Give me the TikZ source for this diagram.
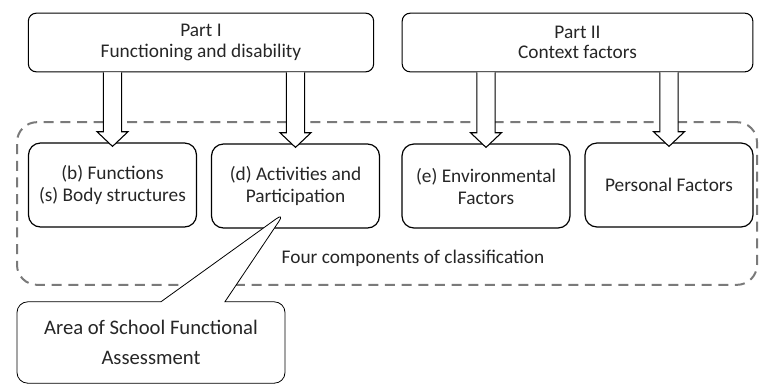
\documentclass[tikz,border=0pt]{standalone}
\usepackage{fontspec}
\setmainfont{Carlito}
\usetikzlibrary{calc,shapes.callouts}
\definecolor{icfgray}{HTML}{7A7A7A}
\definecolor{icftext}{HTML}{262626}

\newcommand{\hollowarrow}[2]{%
  \draw[hollow] ($(#1)+(-6.8pt,0)$) -- ($(#2)+(-6.8pt,11pt)$) -- ($(#2)+(-11.6pt,11pt)$)
    -- (#2) -- ($(#2)+(11.6pt,11pt)$) -- ($(#2)+(6.8pt,11pt)$) -- ($(#1)+(6.8pt,0)$);}

\begin{document}
\begin{tikzpicture}[x=0.75pt,y=-0.75pt,
    every node/.style={text=icftext,font=\fontsize{14.5}{15.5}\selectfont},
    part/.style={draw,rounded corners=6pt,line width=0.8pt,minimum width=259pt,minimum height=44pt,align=center},
    comp/.style={draw,rounded corners=9pt,line width=0.9pt,minimum width=126pt,minimum height=63pt,align=center,
      font=\fontsize{14.5}{16.5}\selectfont},
    group/.style={draw=icfgray,line width=1.5pt,dash pattern=on 7.5pt off 5pt,rounded corners=15pt,minimum width=555pt,minimum height=122pt},
    hollow/.style={line width=0.8pt,fill=white,line join=miter},
    bubble/.style={rectangle callout,draw,fill=white,line width=0.6pt,rounded corners=8pt,minimum width=201pt,minimum height=61pt,
      callout pointer width=48pt,align=center,font=\fontsize{15.5}{22}\selectfont}]
    \useasboundingbox (0,0) rectangle (760,387);
    \node[part] (partI)  at (201,42.5)   {Part I\\Functioning and disability};
    \node[part,minimum width=263pt] (partII) at (577.5,42.5) {Part II\\Context factors};
    \node[group] (four) at (387,203.5) {};
    \node[comp] (box1) at (112.5,185) {(b) Functions\\(s) Body structures};
    \node[comp] (box2) at (295.5,186) {(d) Activities and\\Participation};
    \node[comp] (box3) at (486,186)   {(e) Environmental\\Factors};
    \node[comp] (box4) at (669,185)   {Personal Factors};
    \node (cap) at (413,258) {Four components of classification};
    \foreach \p/\b in {partI/box1,partI/box2,partII/box3,partII/box4}
      \hollowarrow{\p.south -| \b.north}{$(\b.north)+(0,-3pt)$};
    \node[bubble,callout absolute pointer={($(box2.south)+(-8pt,12pt)$)}] (area) at (151,342.5) {Area of School Functional\\Assessment};
  \end{tikzpicture}
\end{document}
